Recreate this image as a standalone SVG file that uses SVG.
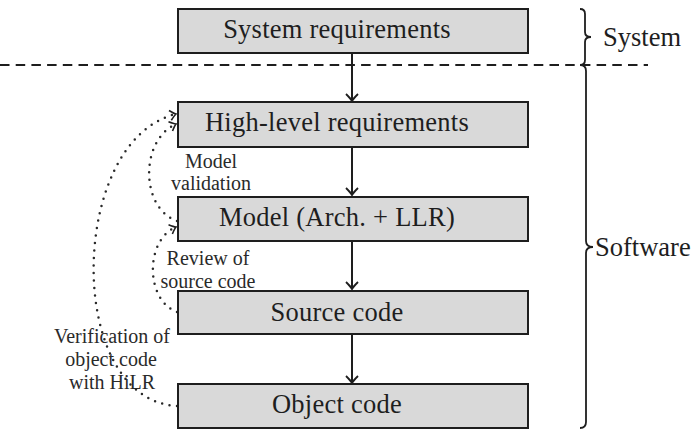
<svg xmlns="http://www.w3.org/2000/svg" width="699" height="432" viewBox="0 0 699 432">
<style>
.box{fill:#d9d9d9;stroke:#1e1e1e;stroke-width:2}
.lbl{font-family:"Liberation Serif","Times New Roman",serif;font-size:26.5px;letter-spacing:0.25px;fill:#1e1e1e;text-anchor:middle}
.sm{font-family:"Liberation Serif","Times New Roman",serif;font-size:20px;fill:#2a2a2a;text-anchor:middle}
.side{font-family:"Liberation Serif","Times New Roman",serif;font-size:26.5px;fill:#1e1e1e}
.arr{fill:none;stroke:#1e1e1e;stroke-width:2}
.dot{fill:none;stroke:#2a2a2a;stroke-width:2.5;stroke-linecap:round;stroke-dasharray:0 7.5}
.brace{fill:none;stroke:#1e1e1e;stroke-width:1.8}
</style>
<defs>
<marker id="ah" markerUnits="userSpaceOnUse" markerWidth="20" markerHeight="20" viewBox="-10 -10 20 20" refX="0" refY="0" orient="auto" overflow="visible">
<path d="M-7,-6 Q-2,-1 0,0 Q-2,1 -7,6" fill="none" stroke="#1e1e1e" stroke-width="1.8"/>
</marker>
<marker id="ahs" markerUnits="userSpaceOnUse" markerWidth="20" markerHeight="20" viewBox="-10 -10 20 20" refX="0" refY="0" orient="auto" overflow="visible">
<path d="M-6,-5 Q-2,-1 0,0 Q-2,1 -6,5" fill="none" stroke="#1e1e1e" stroke-width="1.6"/>
</marker>
</defs>

<line x1="0" y1="65" x2="648" y2="65" stroke="#1e1e1e" stroke-width="2" stroke-dasharray="9.5 6.2"/>

<g id="connectors">
<line class="arr" x1="352" y1="53" x2="352" y2="101" marker-end="url(#ah)"/>
<line class="arr" x1="352" y1="147" x2="352" y2="195" marker-end="url(#ah)"/>
<line class="arr" x1="352" y1="241" x2="352" y2="289" marker-end="url(#ah)"/>
<line class="arr" x1="352" y1="334" x2="352" y2="383" marker-end="url(#ah)"/>
<path class="dot" d="M177,221 C140,208 140,140 176,124" marker-end="url(#ahs)"/>
<path class="dot" d="M177,312 C145,300 145,240 176,227" marker-end="url(#ahs)"/>
<path class="dot" d="M177,406 C64,400 68,140 176,114" marker-end="url(#ahs)"/>
</g>

<g id="system-requirements">
<rect class="box" x="178" y="9" width="350" height="44"/>
<text class="lbl" x="337" y="37.5">System requirements</text>
</g>
<g id="high-level-requirements">
<rect class="box" x="178" y="102" width="350" height="45"/>
<text class="lbl" x="337" y="130.5">High-level requirements</text>
</g>
<g id="model">
<rect class="box" x="178" y="197" width="350" height="44"/>
<text class="lbl" x="337" y="225.5">Model (Arch. + LLR)</text>
</g>
<g id="source-code">
<rect class="box" x="178" y="291" width="350" height="43"/>
<text class="lbl" x="337" y="320.5">Source code</text>
</g>
<g id="object-code">
<rect class="box" x="178" y="384" width="350" height="44"/>
<text class="lbl" x="337" y="412.5">Object code</text>
</g>

<g id="label-model-validation">
<text class="sm" x="211" y="168">Model</text>
<text class="sm" x="211" y="190">validation</text>
</g>
<g id="label-review">
<text class="sm" x="208" y="265">Review of</text>
<text class="sm" x="208" y="288">source code</text>
</g>
<g id="label-verification">
<text class="sm" x="112" y="343">Verification of</text>
<text class="sm" x="111" y="366">object code</text>
<text class="sm" x="112" y="389">with HiLR</text>
</g>

<g id="brace-system">
<path class="brace" d="M580,9 Q585,9 585,14 L585,32 Q585,37 591,37 Q585,37 585,42 L585,60 Q585,65 580,65"/>
<text class="side" x="603" y="46">System</text>
</g>
<g id="brace-software">
<path class="brace" d="M580,65 Q586,65 586,71 L586,241 Q586,247 593,247 Q586,247 586,253 L586,422 Q586,428 580,428"/>
<text class="side" x="595" y="256">Software</text>
</g>
</svg>
